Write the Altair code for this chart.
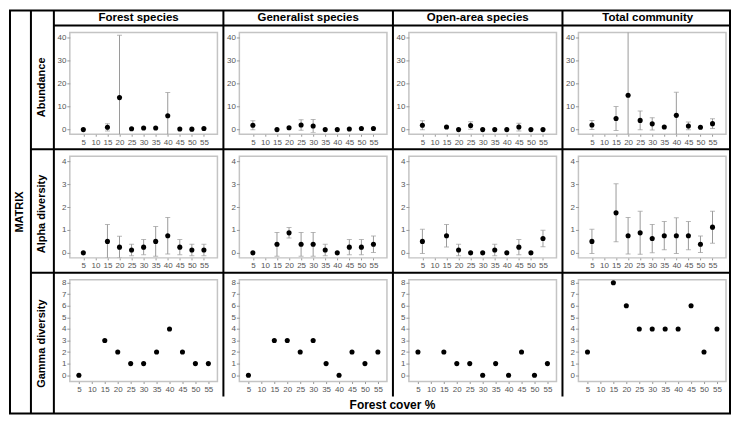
import altair as alt
import pandas as pd

# ---------------- data ----------------
COVER = [5, 15, 20, 25, 30, 35, 40, 45, 50, 55]
X_TICKS = [5, 10, 15, 20, 25, 30, 35, 40, 45, 50, 55]
GROUPS = ["Forest species", "Generalist species", "Open-area species", "Total community"]
ROWS = ["Abundance", "Alpha diversity", "Gamma diversity"]
MATRIX_LABEL = "MATRIX"
X_TITLE = "Forest cover %"

# Abundance (mean, half-width of error bar)
forest_ab = [0.0, 1.0, 13.9, 0.4, 0.7, 0.7, 6.0, 0.3, 0.2, 0.5]
forest_ab_err = [0.0, 1.6, 27.1, 0.0, 0.0, 0.0, 10.1, 0.0, 0.0, 0.0]
gen_ab = [1.9, 0.0, 0.8, 2.0, 1.6, 0.0, 0.0, 0.3, 0.5, 0.5]
gen_ab_err = [2.0, 0.0, 0.0, 2.3, 2.8, 0.0, 0.0, 0.0, 0.0, 0.0]
open_ab = [1.9, 1.1, 0.0, 1.8, 0.0, 0.0, 0.0, 1.1, 0.0, 0.0]
open_ab_err = [2.0, 0.0, 0.0, 1.6, 0.0, 0.0, 0.0, 1.7, 0.0, 0.0]
tot_ab = [2.0, 4.8, 14.9, 4.0, 2.5, 1.1, 6.2, 1.6, 1.0, 2.6]
tot_ab_err = [2.0, 5.2, 28.0, 4.1, 2.7, 0.0, 10.0, 1.7, 0.0, 2.1]

# Alpha diversity
forest_al = [0.0, 0.5, 0.25, 0.125, 0.25, 0.5, 0.75, 0.25, 0.125, 0.125]
forest_al_err = [0.0, 0.74, 0.48, 0.25, 0.33, 0.65, 0.8, 0.33, 0.25, 0.25]
gen_al = [0.0, 0.375, 0.875, 0.375, 0.375, 0.125, 0.0, 0.25, 0.25, 0.375]
gen_al_err = [0.0, 0.52, 0.23, 0.52, 0.52, 0.25, 0.0, 0.33, 0.33, 0.36]
open_al = [0.5, 0.75, 0.125, 0.0, 0.0, 0.125, 0.0, 0.25, 0.0, 0.625]
open_al_err = [0.53, 0.49, 0.25, 0.0, 0.0, 0.25, 0.0, 0.33, 0.0, 0.36]
tot_al = [0.5, 1.75, 0.75, 0.875, 0.625, 0.75, 0.75, 0.75, 0.375, 1.125]
tot_al_err = [0.53, 1.27, 0.8, 0.94, 0.62, 0.62, 0.78, 0.62, 0.36, 0.7]

# Gamma diversity
forest_g = [0, 3, 2, 1, 1, 2, 4, 2, 1, 1]
gen_g = [0, 3, 3, 2, 3, 1, 0, 2, 1, 2]
open_g = [2, 2, 1, 1, 0, 1, 0, 2, 0, 1]
tot_g = [2, 8, 6, 4, 4, 4, 4, 6, 2, 4]

AB_TICKS = [0, 10, 20, 30, 40]
AL_TICKS = [0, 1, 2, 3, 4]
G_TICKS = [0, 1, 2, 3, 4, 5, 6, 7, 8]

# ---------------- layout ----------------
W, H, GAP = 148, 102, 22
FONT = "Liberation Sans"
ERR_COLOR = "#9a9a9a"
ONE = pd.DataFrame({"d": [0]})


def panel(means, errs, ydom, yticks, xdom):
    df = pd.DataFrame({"cover": COVER, "mean": means, "err": errs})

    def xe():
        return alt.X("cover:Q", scale=alt.Scale(domain=xdom),
                     axis=alt.Axis(values=X_TICKS, title=None, labelPadding=2,
                                   tickSize=2, labelFlush=False, labelOverlap=False))

    def ye(field):
        return alt.Y(field, type="quantitative", scale=alt.Scale(domain=ydom),
                     axis=alt.Axis(values=yticks, title=None, labelPadding=1,
                                   tickSize=3, labelFlush=False, labelOverlap=False))

    base = alt.Chart(df)
    layers = []
    if any(e > 0 for e in errs):
        eb = base.transform_filter("datum.err > 0").transform_calculate(
            lo="datum.mean - datum.err", hi="datum.mean + datum.err")
        layers.append(eb.mark_rule(color=ERR_COLOR, strokeWidth=1, clip=True)
                      .encode(x=xe(), y=ye("lo"), y2="hi:Q"))
        layers.append(eb.mark_tick(orient="horizontal", size=5, thickness=1,
                                   color=ERR_COLOR, clip=True)
                      .encode(x=xe(), y=ye("lo")))
        layers.append(eb.mark_tick(orient="horizontal", size=5, thickness=1,
                                   color=ERR_COLOR, clip=True)
                      .encode(x=xe(), y=ye("hi")))
    layers.append(base.mark_point(filled=True, color="black", size=26, opacity=1)
                  .encode(x=xe(), y=ye("mean")))
    return layers


def hline(x1, x2, y):
    return alt.Chart(ONE).mark_rule(color="black", strokeWidth=2).encode(
        x=alt.value(x1), x2=alt.value(x2), y=alt.value(y))


def vline(x, y1, y2):
    return alt.Chart(ONE).mark_rule(color="black", strokeWidth=2).encode(
        x=alt.value(x), y=alt.value(y1), y2=alt.value(y2))


def label(text, x, y, size=11, angle=0):
    return alt.Chart(ONE).mark_text(text=text, font=FONT, fontSize=size,
                                    fontWeight="bold", color="black",
                                    align="center", baseline="middle",
                                    angle=angle).encode(
        x=alt.value(x), y=alt.value(y))


def decorations():
    d = []
    d.append(alt.Chart(ONE).mark_rect(fillOpacity=0, stroke="black", strokeWidth=2)
             .encode(x=alt.value(-60), x2=alt.value(662),
                     y=alt.value(-22), y2=alt.value(382)))
    d.append(vline(-39, -22, 382))
    d.append(vline(-16, -22, 382))
    d.append(hline(-16, 662, -7))
    d.append(hline(-39, 662, 117))
    d.append(hline(-39, 662, 241))
    for x in (154, 324, 494):
        d.append(vline(x, -22, 365))
    for i, g in enumerate(GROUPS):
        d.append(label(g, 69 + i * (W + GAP) + (0.5 if i == 3 else 0), -15, size=11.5))
    for name, y in zip(ROWS, (55, 182, 312)):
        d.append(label(name, -27.5, y, size=11, angle=270))
    d.append(label(MATRIX_LABEL, -50, 180, size=11, angle=270))
    d.append(label(X_TITLE, 323.5, 374, size=12))
    return d


AB_DOM = [-2, 42.2]
AL_DOM = [-0.22, 4.23]
G_DOM = [-0.55, 8.25]
X_DOM = [-0.6, 60.6]
XG_DOM = [1.5, 58.5]

spec = [
    (forest_ab, forest_ab_err, AB_DOM, AB_TICKS, X_DOM),
    (gen_ab, gen_ab_err, AB_DOM, AB_TICKS, X_DOM),
    (open_ab, open_ab_err, AB_DOM, AB_TICKS, X_DOM),
    (tot_ab, tot_ab_err, AB_DOM, AB_TICKS, X_DOM),
    (forest_al, forest_al_err, AL_DOM, AL_TICKS, X_DOM),
    (gen_al, gen_al_err, AL_DOM, AL_TICKS, X_DOM),
    (open_al, open_al_err, AL_DOM, AL_TICKS, X_DOM),
    (tot_al, tot_al_err, AL_DOM, AL_TICKS, X_DOM),
    (forest_g, [0] * 10, G_DOM, G_TICKS, XG_DOM),
    (gen_g, [0] * 10, G_DOM, G_TICKS, XG_DOM),
    (open_g, [0] * 10, G_DOM, G_TICKS, XG_DOM),
    (tot_g, [0] * 10, G_DOM, G_TICKS, XG_DOM),
]

panels = []
for i, (m, e, yd, yt, xd) in enumerate(spec):
    layers = panel(m, e, yd, yt, xd)
    if i == 0:
        layers = decorations() + layers
    panels.append(alt.layer(*layers).properties(width=W, height=H))

chart = alt.concat(*panels, columns=4, spacing=GAP, bounds="flush").properties(
    padding=0
).configure_view(
    stroke="#c4c4c4", strokeWidth=1.5
).configure_axis(
    labelFont=FONT, labelFontSize=8, labelColor="#555555",
    tickColor="#9a9a9a", tickWidth=1, domain=False, grid=False
)

chart.save("out.html", embed_options={"renderer": "svg", "actions": False})
